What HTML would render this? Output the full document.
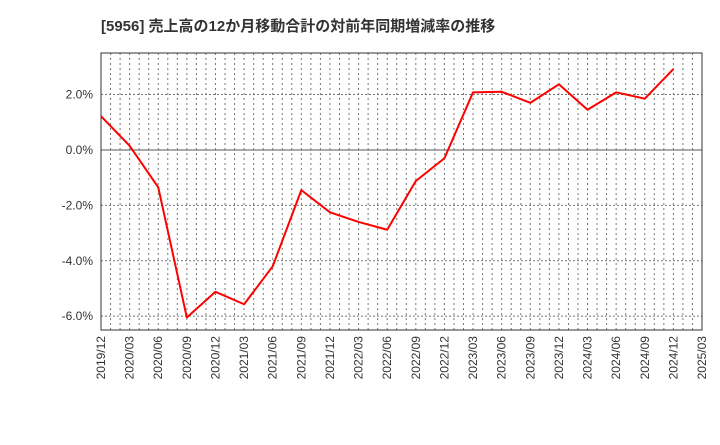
<!DOCTYPE html>
<html><head><meta charset="utf-8"><style>
body{margin:0;background:#fff;font-family:"Liberation Sans","Noto Sans CJK JP",sans-serif}
</style></head><body>
<svg id="c" width="720" height="440" xmlns="http://www.w3.org/2000/svg">
<text x="101" y="31" font-size="15" font-weight="bold" fill="#333" font-family="Liberation Sans,Noto Sans CJK JP,sans-serif">[5956]  売上高の12か月移動合計の対前年同期増減率の推移</text>
<g id="grid"></g><g id="axes"></g><g id="series"></g>
</svg>
<script>
const categories=["2019/12","2020/03","2020/06","2020/09","2020/12","2021/03","2021/06","2021/09","2021/12","2022/03","2022/06","2022/09","2022/12","2023/03","2023/06","2023/09","2023/12","2024/03","2024/06","2024/09","2024/12"];
const xTickLabels=["2019/12","2020/03","2020/06","2020/09","2020/12","2021/03","2021/06","2021/09","2021/12","2022/03","2022/06","2022/09","2022/12","2023/03","2023/06","2023/09","2023/12","2024/03","2024/06","2024/09","2024/12","2025/03"];
const values=[1.22,0.15,-1.35,-6.05,-5.12,-5.57,-4.2,-1.45,-2.25,-2.6,-2.88,-1.12,-0.3,2.08,2.1,1.7,2.37,1.45,2.08,1.85,2.92];
const yTicks=[-6,-4,-2,0,2];
const L=101,R=702,T=53,B=330,yMin=-6.5,yMax=3.5;
const NS="http://www.w3.org/2000/svg";
const x=i=>L+(R-L)*i/(xTickLabels.length-1);
const y=v=>T+(yMax-v)/(yMax-yMin)*(B-T);
function mk(tag,a,p){const e=document.createElementNS(NS,tag);for(const k in a)e.setAttribute(k,a[k]);p.appendChild(e);return e;}
const g=document.getElementById('grid'),ax=document.getElementById('axes'),s=document.getElementById('series');
const nm=(xTickLabels.length-1)*3;
for(let m=1;m<nm;m++){const xx=L+(R-L)*m/nm;
const e=mk('line',{x1:xx,x2:xx,y1:T,y2:B,stroke:'#777','stroke-width':1,'stroke-dasharray':'2,3'},g);

}
yTicks.forEach(v=>{const e=mk('line',{x1:L,x2:R,y1:y(v),y2:y(v),stroke:v==0?'#555':'#777','stroke-width':1,'stroke-dasharray':v==0?'none':'2,2'},g);


const t=mk('text',{x:L-8,y:y(v)+4,'font-size':12,'text-anchor':'end',fill:'#333'},ax);t.textContent=v.toFixed(1)+'%';

});
const fr=mk('rect',{x:L,y:T,width:R-L,height:B-T,fill:'none',stroke:'#333','stroke-width':1},ax);


xTickLabels.forEach((lb,i)=>{const t=mk('text',{x:0,y:0,'font-size':12,'text-anchor':'end',fill:'#333',transform:`translate(${x(i)+4},${B+6}) rotate(-90)`},ax);t.textContent=lb;

});
const p=mk('polyline',{points:values.map((v,i)=>x(i)+','+y(v)).join(' '),fill:'none',stroke:'#f00','stroke-width':2,'stroke-linejoin':'round'},s);


</script>
</body></html>
